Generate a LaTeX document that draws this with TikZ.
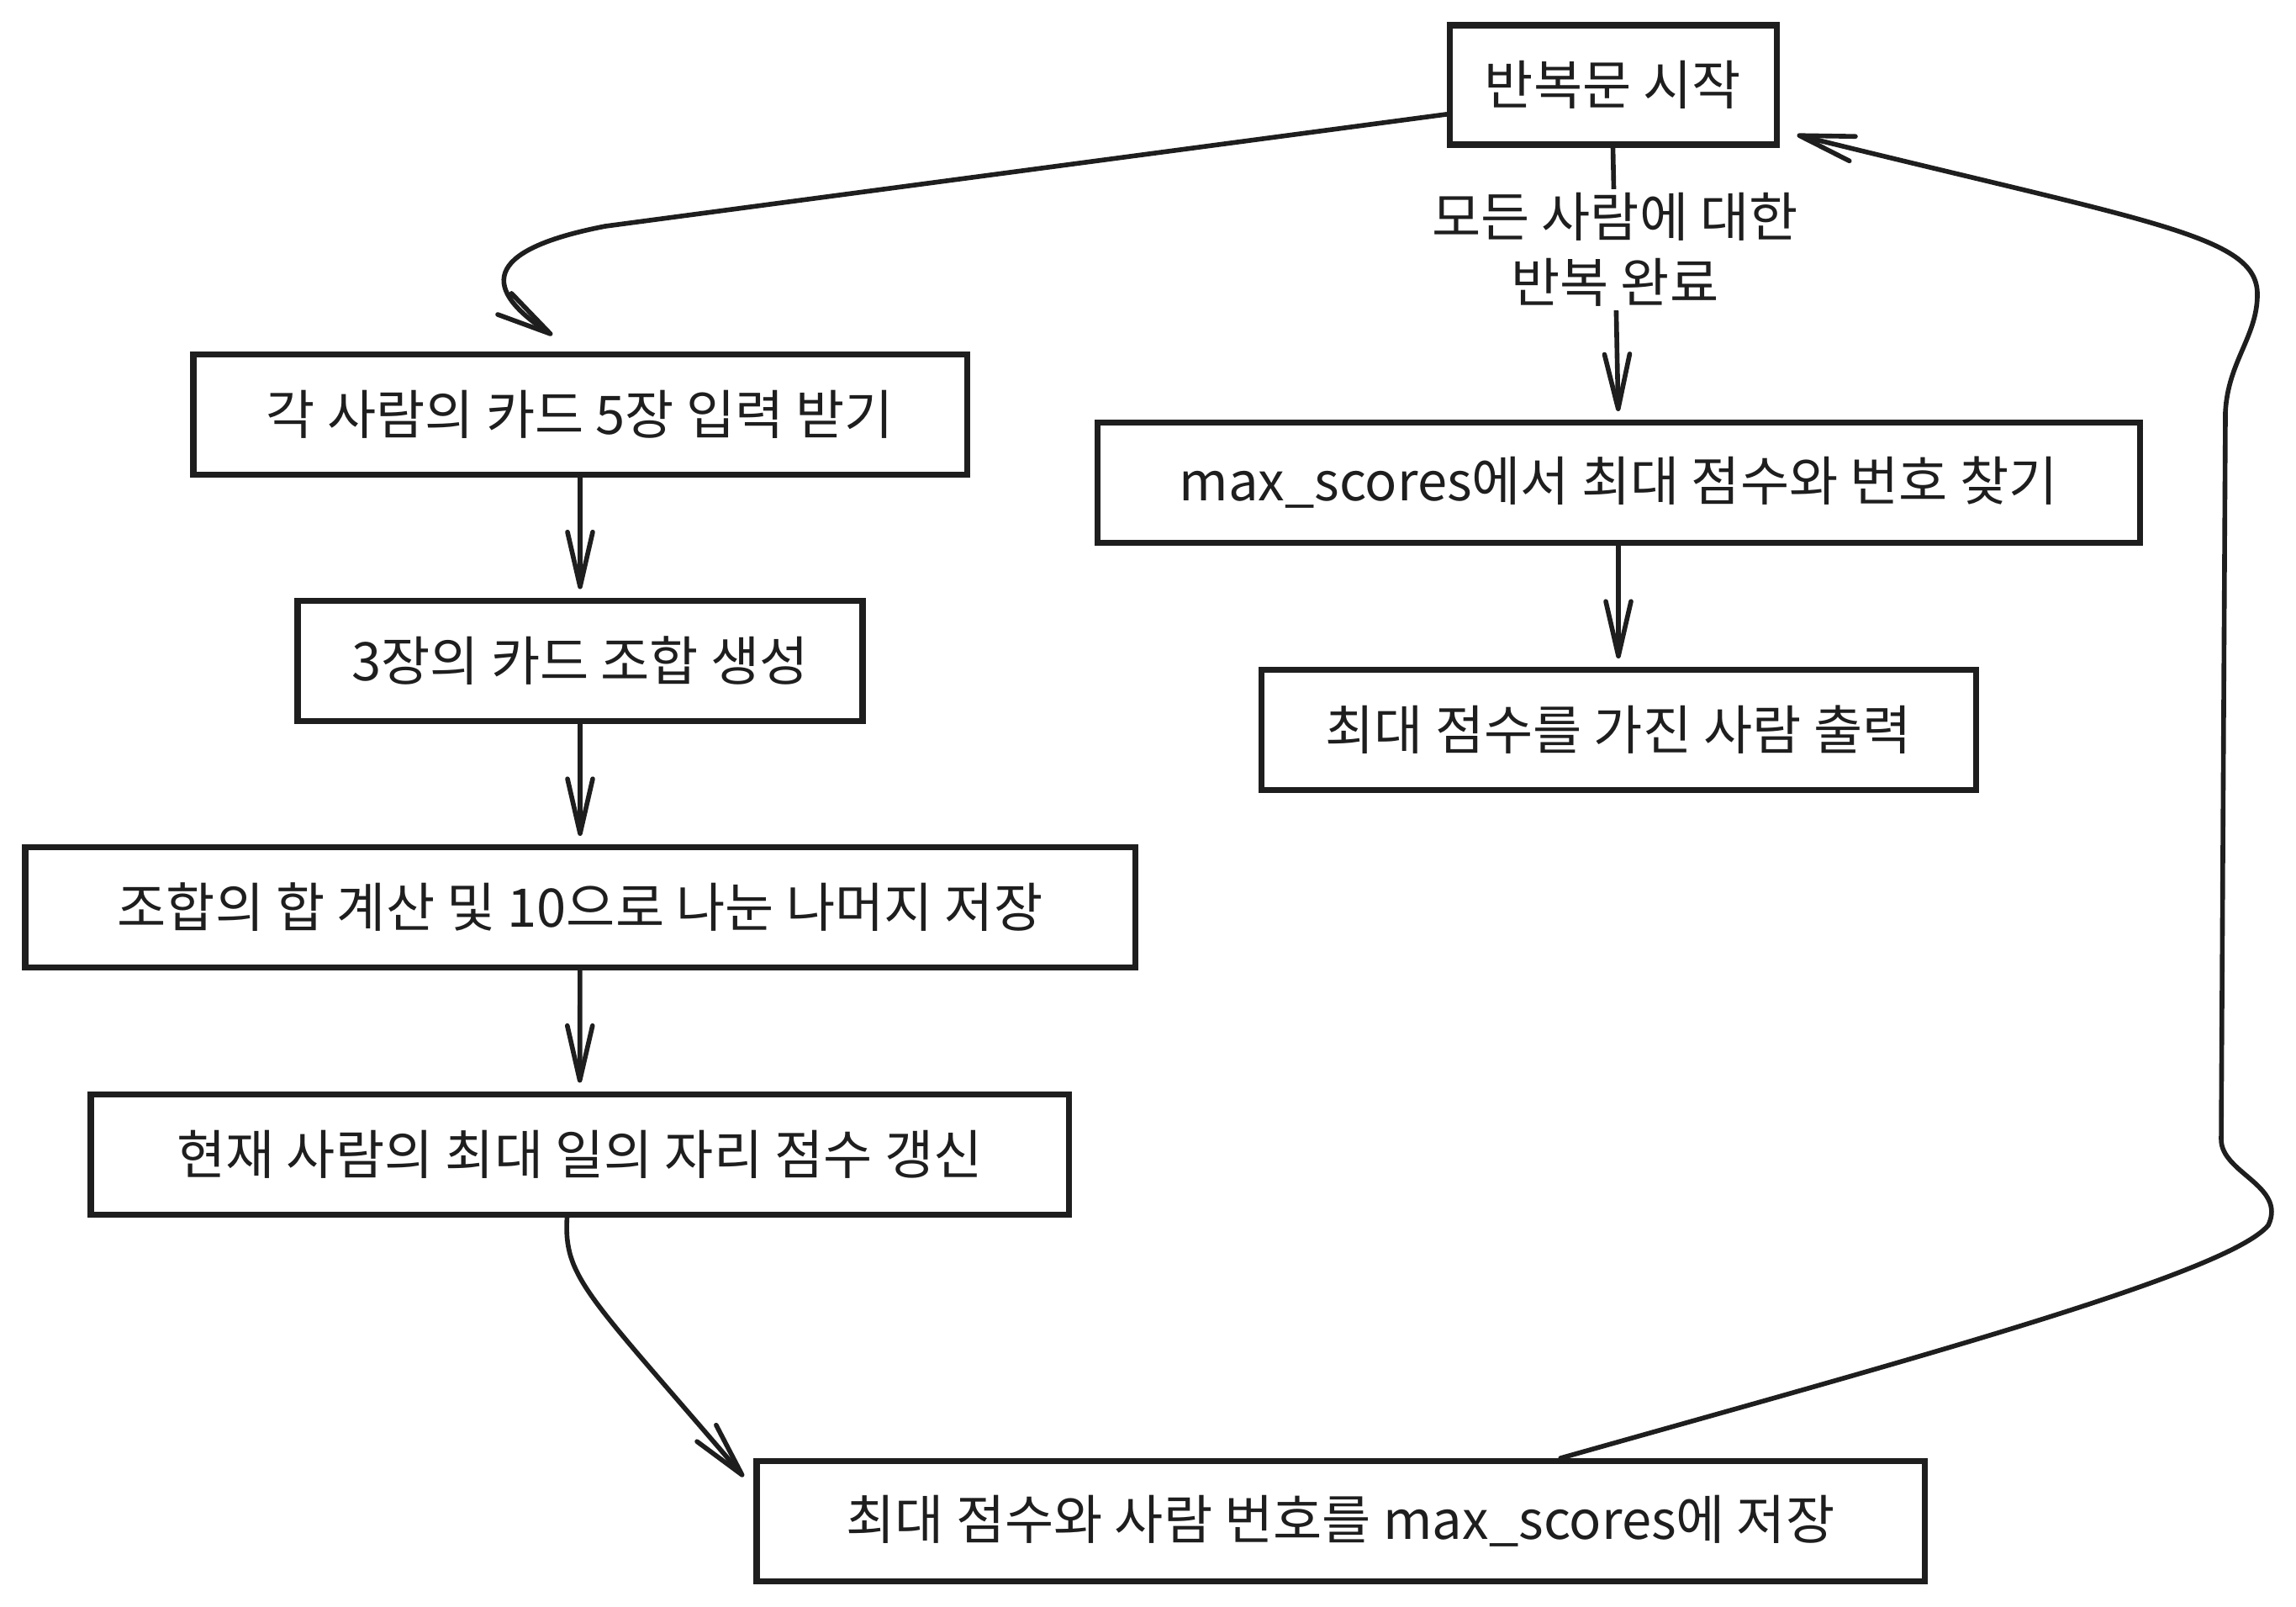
\documentclass[tikz,border=0pt]{standalone}
\usepackage{fontspec}
\setmainfont{Noto Sans CJK KR}
\usetikzlibrary{arrows.meta}
\definecolor{ink}{HTML}{1E1E1E}

\begin{document}
\begin{tikzpicture}[
    font=\fontsize{18}{22}\selectfont,
    box/.style={draw=ink, text=ink, line width=2pt, minimum height=1.43cm, inner sep=0pt},
    flow/.style={draw=ink, line width=1.6pt, line cap=round, shorten >=1mm,
        -{Straight Barb[length=6.5mm, width=3mm, line width=1.6pt, round]}},
    note/.style={fill=white, text=ink, align=center, inner sep=0.5mm}
]
    \useasboundingbox (0,0) rectangle (27.31,-19.10);

    % Loop start
    \node[box, minimum width=3.89cm, minimum height=1.42cm] (start) at (19.185,-1.01) {반복문 시작};

    % Left column: per-person steps
    \node[box, minimum width=9.2cm] (input) at (6.90,-4.925) {각 사람의 카드 5장 입력 받기};
    \node[box, minimum width=6.72cm] (combo) at (6.90,-7.855) {3장의 카드 조합 생성};
    \node[box, minimum width=13.2cm] (sum) at (6.90,-10.79) {조합의 합 계산 및 10으로 나눈 나머지 저장};
    \node[box, minimum width=11.63cm] (update) at (6.895,-13.725) {현재 사람의 최대 일의 자리 점수 갱신};
    \node[box, minimum width=13.89cm] (store) at (15.945,-18.09) {최대 점수와 사람 번호를 max\_scores에 저장};

    % Right column: after the loop
    \node[box, minimum width=12.4cm] (find) at (19.25,-5.74) {max\_scores에서 최대 점수와 번호 찾기};
    \node[box, minimum width=8.5cm] (print) at (19.25,-8.68) {최대 점수를 가진 사람 출력};

    % Loop body
    \draw[flow, shorten >=0pt] (start.190) -- (7.2,-2.69)
        .. controls (5.7,-2.98) and (5.75,-3.45) .. ([xshift=-3.3mm,yshift=1.9mm]input.north);
    \draw[flow] (input) -- (combo);
    \draw[flow] (combo) -- (sum);
    \draw[flow] (sum) -- (update);
    \draw[flow, shorten >=0pt] ([xshift=-1.5mm]update.south)
        .. controls (6.7,-15.2) and (7.0,-15.4) .. ([xshift=-1.2mm,yshift=-2.2mm]store.north west);

    % Back to the loop start
    \draw[flow, shorten >=0pt] (store.16)
        .. controls (22.6,-16.2) and (26.5,-15.15) .. (26.98,-14.57)
        .. controls (27.2,-14.1) and (26.42,-13.95) .. (26.42,-13.55)
        -- (26.47,-4.9)
        .. controls (26.5,-4.3) and (26.85,-4.0) .. (26.85,-3.5)
        .. controls (26.85,-2.8) and (25.6,-2.65) .. ([xshift=2.1mm,yshift=1.5mm]start.south east);

    % Loop done
    \draw[flow] (start.south) -- node[note, pos=0.375] (done) {모든 사람에 대한\\반복 완료} (find.north);
    \draw[flow] (find) -- (print);
\end{tikzpicture}
\end{document}
